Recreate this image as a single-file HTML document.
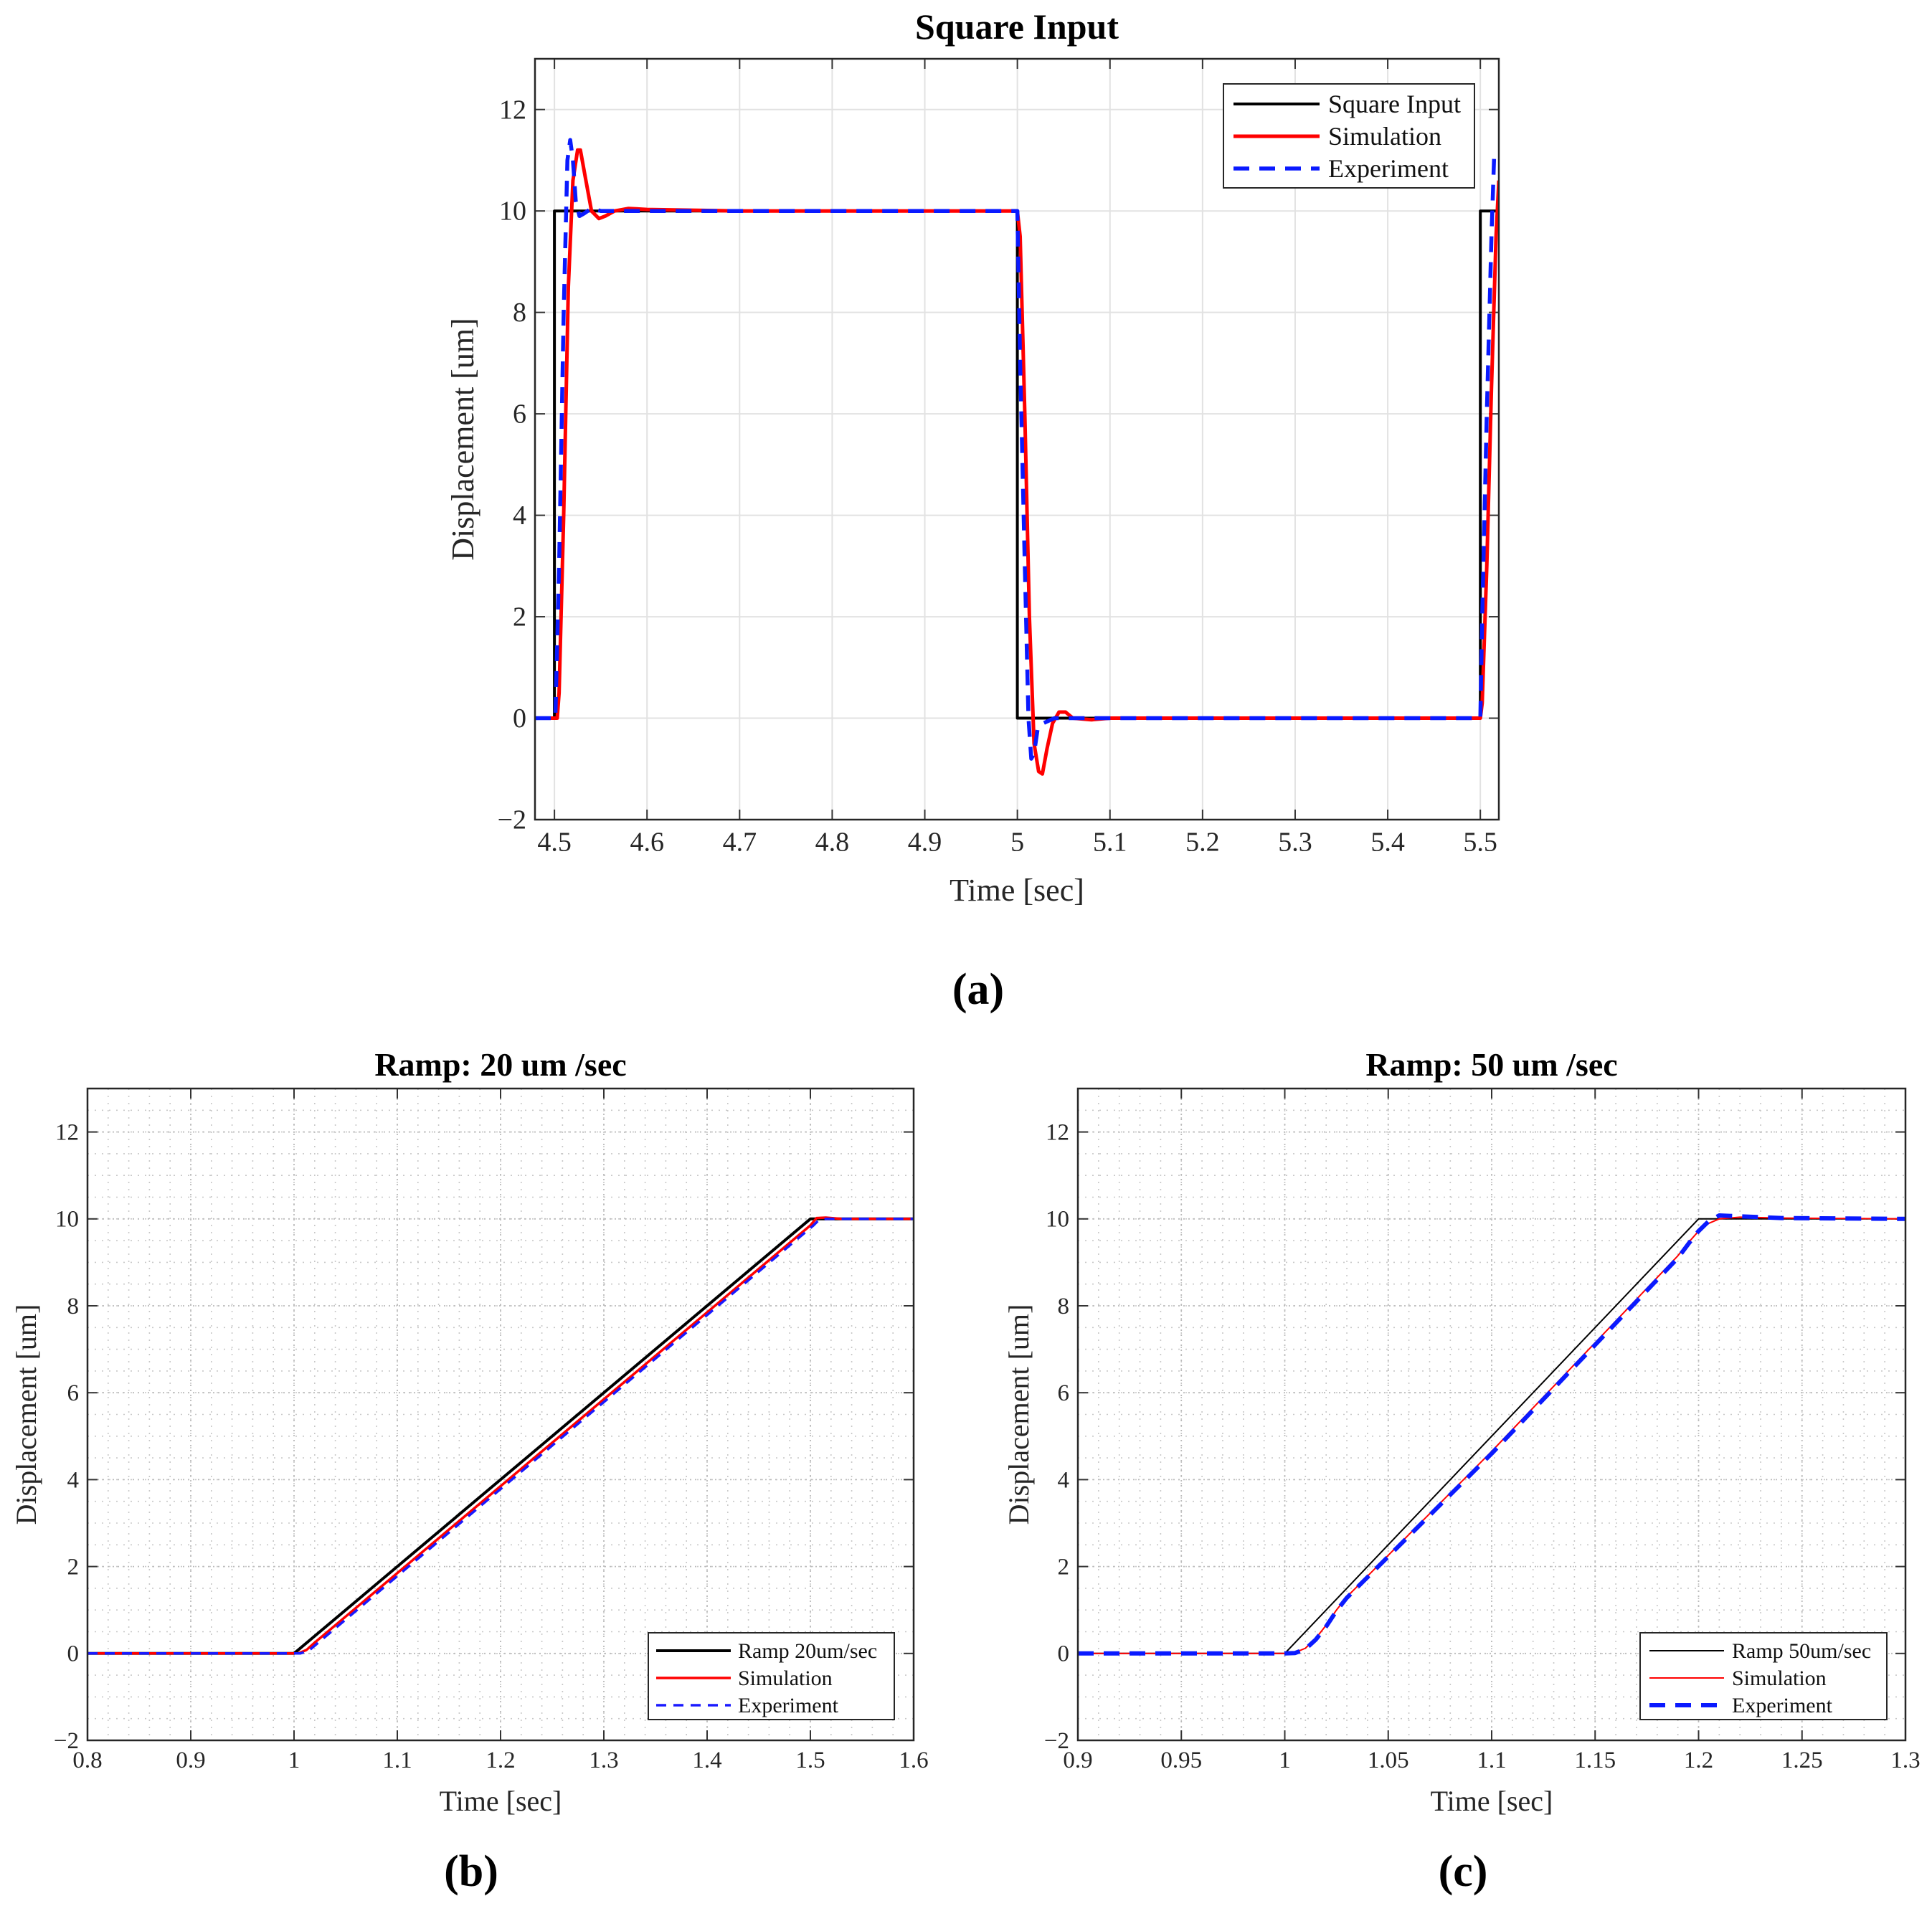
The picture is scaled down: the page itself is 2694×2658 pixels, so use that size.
<!DOCTYPE html>
<html><head><meta charset="utf-8"><style>
html,body{margin:0;padding:0;background:#fff;}
svg{display:block;font-family:"Liberation Serif",serif;}
</style></head><body>
<svg id="fig" width="2694" height="2658" viewBox="0 0 2694 2658" xmlns="http://www.w3.org/2000/svg">
<rect width="2694" height="2658" fill="#fff"/>
<text x="1364" y="1400" font-size="62" font-weight="bold" text-anchor="middle">(a)</text>
<text x="657" y="2630" font-size="62" font-weight="bold" text-anchor="middle">(b)</text>
<text x="2040" y="2630" font-size="62" font-weight="bold" text-anchor="middle">(c)</text>
</svg>
<script>
// ---- Panel (a) data ----
const aSquareT = [4.479, 4.5, 4.5, 5.0, 5.0, 5.5, 5.5, 5.52];
const aSquareY = [0, 0, 10, 10, 0, 0, 10, 10];
const aSimT = [4.479,4.503,4.505,4.51,4.515,4.52,4.525,4.528,4.533,4.54,4.548,4.555,4.565,4.58,4.6,4.7,5.0,5.003,5.008,5.013,5.018,5.023,5.027,5.032,5.038,5.045,5.052,5.06,5.08,5.1,5.5,5.502,5.507,5.512,5.517,5.52];
const aSimY = [0,0,0.5,4,8.5,10.6,11.2,11.2,10.7,10.0,9.85,9.9,10.0,10.05,10.03,10.0,10.0,9.5,6,2,-0.5,-1.05,-1.1,-0.6,-0.1,0.12,0.12,0.0,-0.03,0,0,0.3,3,6.5,9.5,10.6];
const aExpT = [4.479,4.501,4.505,4.51,4.514,4.517,4.52,4.523,4.527,4.532,4.54,4.55,5.0,5.003,5.008,5.012,5.015,5.018,5.022,5.028,5.04,5.06,5.5,5.502,5.507,5.512,5.515,5.52];
const aExpY = [0,0,3,8,11,11.4,11,10.2,9.9,9.95,10.05,10.0,10,7,3,0,-0.8,-0.7,-0.2,-0.1,0,0,0,2,6,9.5,11.1,11.1];
const aXTicks = [4.5,4.6,4.7,4.8,4.9,5,5.1,5.2,5.3,5.4,5.5];
const aXTickLabels = ["4.5","4.6","4.7","4.8","4.9","5","5.1","5.2","5.3","5.4","5.5"];
const aYTicks = [-2,0,2,4,6,8,10,12];
const aYTickLabels = ["\u22122","0","2","4","6","8","10","12"];
// ---- Panel (b) data ----
const bRampT = [0.8, 1.0, 1.5, 1.6];
const bRampY = [0, 0, 10, 10];
const bSimT = [0.8, 1.004, 1.012, 1.02, 1.5, 1.506, 1.515, 1.53, 1.6];
const bSimY = [0, 0, 0.08, 0.25, 9.85, 10.02, 10.03, 10.0, 10.0];
const bExpT = [0.8, 1.006, 1.014, 1.022, 1.503, 1.508, 1.515, 1.6];
const bExpY = [0, 0, 0.06, 0.22, 9.85, 9.97, 10.0, 10.0];
const bXTicks = [0.8,0.9,1,1.1,1.2,1.3,1.4,1.5,1.6];
const bXTickLabels = ["0.8","0.9","1","1.1","1.2","1.3","1.4","1.5","1.6"];
// ---- Panel (c) data ----
const cRampT = [0.9, 1.0, 1.2, 1.3];
const cRampY = [0, 0, 10, 10];
const cSimT = [0.9,1.0,1.005,1.01,1.015,1.02,1.025,1.03,1.1,1.19,1.195,1.2,1.205,1.21,1.22,1.24,1.3];
const cSimY = [0,0,0.02,0.12,0.35,0.65,1.0,1.3,4.65,9.15,9.45,9.72,9.9,10.0,10.04,10.02,10];
const cExpT = [0.9,1.0,1.005,1.01,1.015,1.02,1.025,1.03,1.1,1.19,1.195,1.2,1.205,1.21,1.22,1.24,1.3];
const cExpY = [0,0,0.01,0.1,0.32,0.62,0.98,1.28,4.6,9.1,9.42,9.72,9.95,10.08,10.06,10.02,10];
const cXTicks = [0.9,0.95,1,1.05,1.1,1.15,1.2,1.25,1.3];
const cXTickLabels = ["0.9","0.95","1","1.05","1.1","1.15","1.2","1.25","1.3"];
const rYTicks = [-2,0,2,4,6,8,10,12];
const rYTickLabels = ["\u22122","0","2","4","6","8","10","12"];

const NS = "http://www.w3.org/2000/svg";
const svg = document.getElementById('fig');
function mk(tag, attrs, parent){const e=document.createElementNS(NS,tag);for(const k in attrs)e.setAttribute(k,attrs[k]);(parent||svg).appendChild(e);return e;}

function panel(cfg){
  const g = mk('g',{});
  
  
  const sx = v => cfg.L + (v - cfg.x0)/(cfg.x1 - cfg.x0)*(cfg.R - cfg.L);
  const sy = v => cfg.B - (v - cfg.y0)/(cfg.y1 - cfg.y0)*(cfg.B - cfg.T);
  if (cfg.minor){
    const mx = (cfg.xTicks[1]-cfg.xTicks[0])/5;
    for (let v = cfg.x0; v <= cfg.x1 + 1e-9; v += mx){
      const l = mk('line',{x1:sx(v),x2:sx(v),y1:cfg.T,y2:cfg.B,stroke:'#c8c8c8','stroke-width':1.6,'stroke-dasharray':'2 8'},g);
      
      
    }
    for (let v = cfg.y0; v <= cfg.y1 + 1e-9; v += 0.5){
      const l = mk('line',{x1:cfg.L,x2:cfg.R,y1:sy(v),y2:sy(v),stroke:'#c8c8c8','stroke-width':1.6,'stroke-dasharray':'2 8'},g);
      
      
    }
  }
  const gridStyle = cfg.minor ? {stroke:'#bbbbbb','stroke-width':1.8,'stroke-dasharray':'2 5'} : {stroke:'#e2e2e2','stroke-width':2};
  cfg.xTicks.forEach((v,i)=>{
    const l = mk('line',Object.assign({x1:sx(v),x2:sx(v),y1:cfg.T,y2:cfg.B},gridStyle),g);
    
    
    const t1 = mk('line',{x1:sx(v),x2:sx(v),y1:cfg.B,y2:cfg.B-14,stroke:'#333','stroke-width':2},g);
    
    
    const t2 = mk('line',{x1:sx(v),x2:sx(v),y1:cfg.T,y2:cfg.T+14,stroke:'#333','stroke-width':2},g);
    
    
    const tx = mk('text',{x:sx(v),y:cfg.B+cfg.tickFont*1.15,'font-size':cfg.tickFont,'text-anchor':'middle',fill:'#262626'},g);
    tx.textContent = cfg.xLabels[i];
    
    
  });
  cfg.yTicks.forEach((v,i)=>{
    const l = mk('line',Object.assign({x1:cfg.L,x2:cfg.R,y1:sy(v),y2:sy(v)},gridStyle),g);
    
    
    const t1 = mk('line',{x1:cfg.L,x2:cfg.L+14,y1:sy(v),y2:sy(v),stroke:'#333','stroke-width':2},g);
    
    
    const t2 = mk('line',{x1:cfg.R,x2:cfg.R-14,y1:sy(v),y2:sy(v),stroke:'#333','stroke-width':2},g);
    
    
    const tx = mk('text',{x:cfg.L-12,y:sy(v)+cfg.tickFont*0.33,'font-size':cfg.tickFont,'text-anchor':'end',fill:'#262626'},g);
    tx.textContent = cfg.yLabels[i];
    
    
  });
  const cp = mk('clipPath',{id:cfg.name+'-clip'},g);
  mk('rect',{x:cfg.L,y:cfg.T,width:cfg.R-cfg.L,height:cfg.B-cfg.T},cp);
  cfg.series.forEach(s=>{
    const pts = s.t.map((t,i)=>sx(t).toFixed(1)+','+sy(s.y[i]).toFixed(1)).join(' ');
    const p = mk('polyline',{points:pts,fill:'none',stroke:s.color,'stroke-width':s.w,'stroke-dasharray':s.dash||'none','stroke-linejoin':'round','clip-path':'url(#'+cfg.name+'-clip)'},g);
    
    
  });
  const box = mk('rect',{x:cfg.L,y:cfg.T,width:cfg.R-cfg.L,height:cfg.B-cfg.T,fill:'none',stroke:'#262626','stroke-width':2.5},g);
  
  
  const ttl = mk('text',{x:(cfg.L+cfg.R)/2,y:cfg.titleY,'font-size':cfg.titleFont,'font-weight':'bold','text-anchor':'middle'},g);
  ttl.textContent = cfg.title;
  
  
  const xl = mk('text',{x:(cfg.L+cfg.R)/2,y:cfg.xLabelY,'font-size':cfg.labelFont,'text-anchor':'middle',fill:'#262626'},g);
  xl.textContent = 'Time [sec]';
  
  
  const cy = (cfg.T+cfg.B)/2;
  const yl = mk('text',{x:cfg.yLabelX,y:cy,'font-size':cfg.labelFont,'text-anchor':'middle',fill:'#262626',transform:'rotate(-90 '+cfg.yLabelX+' '+cy+')'},g);
  yl.textContent = 'Displacement [um]';
  
  
  const lg = cfg.legend;
  const lgG = mk('g',{},g);
  
  
  mk('rect',{x:lg.x,y:lg.y,width:lg.w,height:lg.h,fill:'#fff',stroke:'#262626','stroke-width':2},lgG);
  cfg.series.forEach((s,i)=>{
    const yy = lg.rows[i];
    const ln = mk('line',{x1:lg.lx1,x2:lg.lx2,y1:yy,y2:yy,stroke:s.color,'stroke-width':s.w,'stroke-dasharray':s.dash||'none'},lgG);
    
    
    const tx = mk('text',{x:lg.tx,y:yy+lg.font*0.33,'font-size':lg.font,fill:'#111'},lgG);
    tx.textContent = s.label;
    
    
  });
}

panel({name:'square-input-chart',title:'Square Input',L:746,R:2090,T:82,B:1143,x0:4.479,x1:5.52,y0:-2,y1:13,
  xTicks:aXTicks,xLabels:aXTickLabels,yTicks:aYTicks,yLabels:aYTickLabels,minor:false,
  tickFont:38,titleFont:50,labelFont:44,titleY:54,xLabelY:1256,yLabelX:660,
  series:[
    {name:'square-input-line',label:'Square Input',t:aSquareT,y:aSquareY,color:'#000',w:4},
    {name:'simulation-line',label:'Simulation',t:aSimT,y:aSimY,color:'#ff0000',w:5},
    {name:'experiment-line',label:'Experiment',t:aExpT,y:aExpY,color:'#0a1aff',w:5.5,dash:'22 14'}],
  legend:{x:1706,y:117,w:350,h:145,rows:[145,190,235],lx1:1720,lx2:1840,tx:1852,font:36}});

panel({name:'ramp-20-chart',title:'Ramp: 20 um /sec',L:122,R:1274,T:1518,B:2427,x0:0.8,x1:1.6,y0:-2,y1:13,
  xTicks:bXTicks,xLabels:bXTickLabels,yTicks:rYTicks,yLabels:rYTickLabels,minor:true,
  tickFont:33,titleFont:46,labelFont:40,titleY:1500,xLabelY:2525,yLabelX:50,
  series:[
    {name:'ramp-20-line',label:'Ramp 20um/sec',t:bRampT,y:bRampY,color:'#000',w:4},
    {name:'simulation-line',label:'Simulation',t:bSimT,y:bSimY,color:'#ff0000',w:3.5},
    {name:'experiment-line',label:'Experiment',t:bExpT,y:bExpY,color:'#1a1aff',w:3.5,dash:'14 10'}],
  legend:{x:904,y:2277,w:343,h:121,rows:[2302,2340,2378],lx1:915,lx2:1019,tx:1029,font:30}});

panel({name:'ramp-50-chart',title:'Ramp: 50 um /sec',L:1503,R:2657,T:1518,B:2427,x0:0.9,x1:1.3,y0:-2,y1:13,
  xTicks:cXTicks,xLabels:cXTickLabels,yTicks:rYTicks,yLabels:rYTickLabels,minor:true,
  tickFont:33,titleFont:46,labelFont:40,titleY:1500,xLabelY:2525,yLabelX:1434,
  series:[
    {name:'ramp-50-line',label:'Ramp 50um/sec',t:cRampT,y:cRampY,color:'#000',w:2},
    {name:'simulation-line',label:'Simulation',t:cSimT,y:cSimY,color:'#ff0000',w:2},
    {name:'experiment-line',label:'Experiment',t:cExpT,y:cExpY,color:'#0a1aff',w:6,dash:'22 14'}],
  legend:{x:2287,y:2277,w:344,h:121,rows:[2302,2340,2378],lx1:2300,lx2:2404,tx:2415,font:30}});
</script>
</body></html>
